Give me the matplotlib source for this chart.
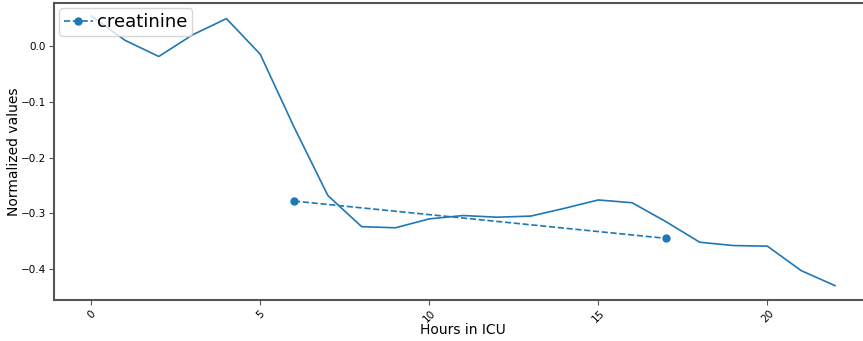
import matplotlib
matplotlib.use("Agg")
import matplotlib.pyplot as plt

hours = list(range(23))
values = [0.055, 0.011, -0.018, 0.021, 0.050, -0.014, -0.145, -0.268, -0.324, -0.326,
          -0.310, -0.304, -0.307, -0.305, -0.291, -0.276, -0.281, -0.315, -0.352, -0.358,
          -0.359, -0.403, -0.430]
creat_hours = [6, 17]
creat_values = [-0.278, -0.345]

fig = plt.figure(figsize=(8.63, 3.41), dpi=100)
ax = fig.add_axes([0.0626, 0.120, 0.948, 0.871])
ax.plot(hours, values, color="#1f77b4", lw=1.2)
ax.plot(creat_hours, creat_values, "o--", color="#1f77b4", lw=1.2, ms=5, label="creatinine")
ax.set_xlim(-1.1, 23.1)
ax.set_ylim(-0.456, 0.078)
ax.set_xticks([0, 5, 10, 15, 20])
ax.set_yticks([0.0, -0.1, -0.2, -0.3, -0.4])
for lbl in ax.get_xticklabels():
    lbl.set_rotation(45)
ax.tick_params(labelsize=7.5, colors="black", pad=2.5)
for s in ax.spines.values():
    s.set_color("#555555")
    s.set_linewidth(1.5)
ax.tick_params(color="#555555")
ax.set_xlabel("Hours in ICU", fontsize=10)
ax.set_ylabel("Normalized values", fontsize=10)
ax.xaxis.set_label_coords(0.5, -0.078)
ax.yaxis.set_label_coords(-0.040, 0.5)
ax.legend(loc="upper left", fontsize=13, borderaxespad=0.3, handlelength=1.6,
          borderpad=0.25, handletextpad=0.25)
fig.savefig("out.png", dpi=100)
